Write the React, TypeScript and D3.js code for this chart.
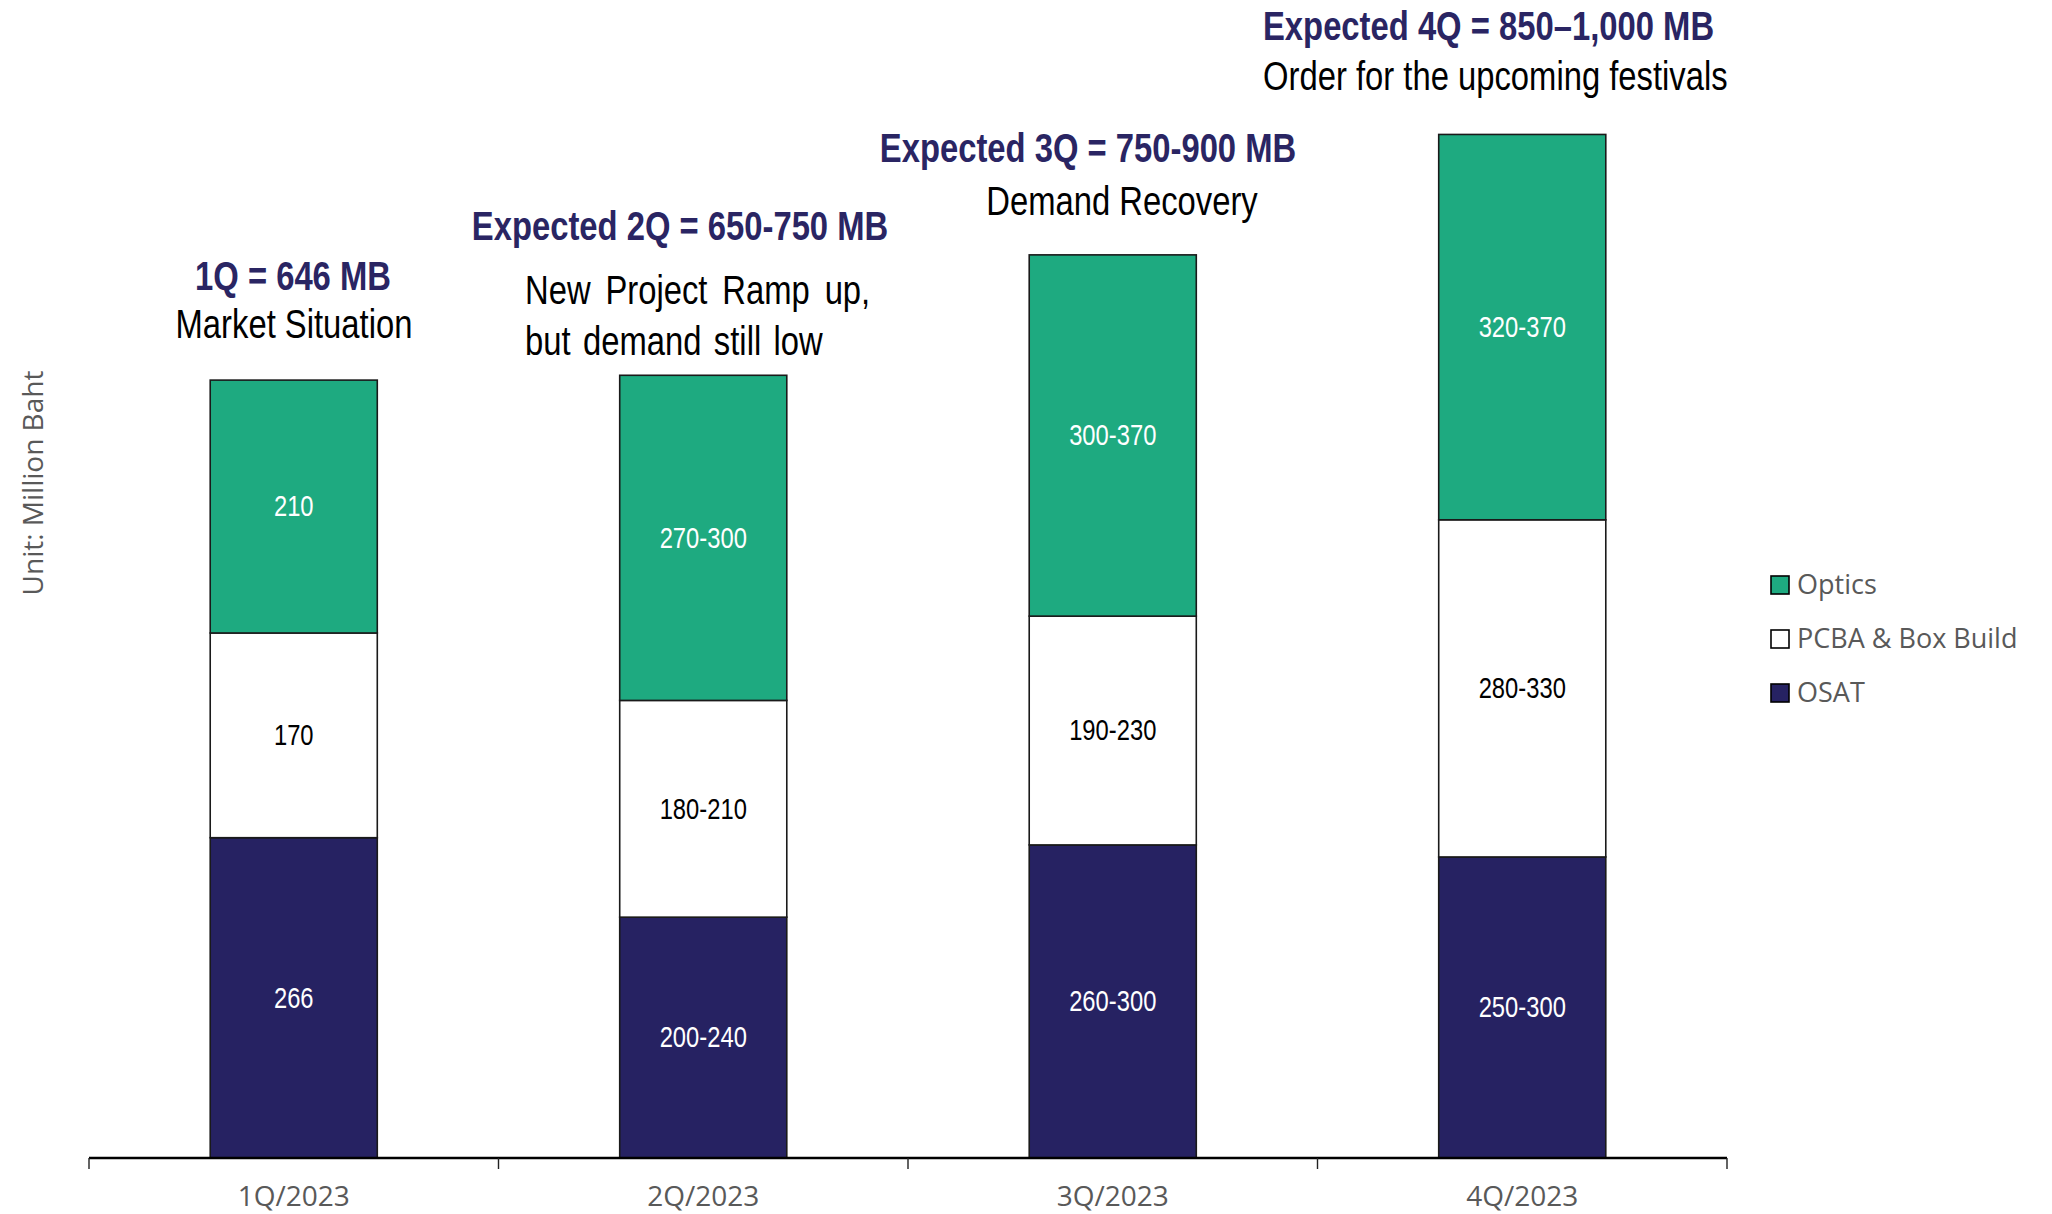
import React from "react";
import * as d3 from "d3";

const categories = ["1Q/2023", "2Q/2023", "3Q/2023", "4Q/2023"];
const osatValues = [266, 200, 260, 250];
const pcbaValues = [170, 180, 190, 280];
const opticsValues = [210, 270, 300, 320];
const osatLabels = ["266", "200-240", "260-300", "250-300"];
const pcbaLabels = ["170", "180-210", "190-230", "280-330"];
const opticsLabels = ["210", "270-300", "300-370", "320-370"];
const seriesKeys = ["OSAT", "PCBA & Box Build", "Optics"];
const legendOrder = ["Optics", "PCBA & Box Build", "OSAT"];
const headlines = [
  "1Q = 646 MB",
  "Expected 2Q = 650-750 MB",
  "Expected 3Q = 750-900 MB",
  "Expected 4Q = 850\u20131,000 MB",
];
const notes = [
  ["Market Situation"],
  ["New Project Ramp up,", "but demand still low"],
  ["Demand Recovery"],
  ["Order for the upcoming festivals"],
];
const yAxisTitle = "Unit: Million Baht";

const W = 2052;
const H = 1214;
const NARROW = "'Liberation Sans', Arial, sans-serif";
const SANS = "'Open Sans', 'Noto Sans', sans-serif";
const NAVY = "#262262";
const GREEN = "#1EAA80";
const TITLE = "#2A2563";
const GRAY = "#595959";
const SQUEEZE = 0.82;

function NarrowText(props: {
  x: number;
  y: number;
  anchor?: string;
  size: number;
  weight?: string;
  fill: string;
  central?: boolean;
  wordSpacing?: number;
  children: React.ReactNode;
}) {
  const { x, y, anchor = "middle", size, weight = "normal", fill, central, wordSpacing, children } = props;
  return (
    <text
      transform={`translate(${x},${y}) scale(${SQUEEZE},1)`}
      textAnchor={anchor as any}
      dominantBaseline={central ? "central" : "auto"}
      fontFamily={NARROW}
      fontSize={size}
      fontWeight={weight}
      fill={fill}
      style={{ wordSpacing: wordSpacing ? `${wordSpacing}px` : undefined }}
    >
      {children}
    </text>
  );
}

export default function App() {
  const table = categories.map((c, i) => ({
    cat: c,
    OSAT: osatValues[i],
    "PCBA & Box Build": pcbaValues[i],
    Optics: opticsValues[i],
  }));
  const labelMap: Record<string, string[]> = {
    OSAT: osatLabels,
    "PCBA & Box Build": pcbaLabels,
    Optics: opticsLabels,
  };
  const fillMap: Record<string, string> = {
    OSAT: NAVY,
    "PCBA & Box Build": "#FFFFFF",
    Optics: GREEN,
  };
  const textMap: Record<string, string> = {
    OSAT: "#FFFFFF",
    "PCBA & Box Build": "#000000",
    Optics: "#FFFFFF",
  };

  const x = d3
    .scaleBand<string>()
    .domain(categories)
    .range([89, 1727])
    .paddingInner(0.592)
    .paddingOuter(0.296);
  const y = d3.scaleLinear().domain([0, 960]).range([1158, 2]);
  const stack = d3.stack<any>().keys(seriesKeys);
  const layers = stack(table);

  const step = x.step();
  const tickXs = d3.range(categories.length + 1).map((i) => x.range()[0] + i * step);

  // annotation placement per category
  const annot = [
    { x: 293, anchor: "middle", ty: 290, nx: 294, nanchor: "middle", ny: [338], ws: [0] },
    { x: 680, anchor: "middle", ty: 240, nx: 525, nanchor: "start", ny: [304, 355], ws: [7, 4] },
    { x: 1088, anchor: "middle", ty: 162, nx: 1122, nanchor: "middle", ny: [215], ws: [0] },
    { x: 1263, anchor: "start", ty: 40, nx: 1263, nanchor: "start", ny: [90], ws: [0] },
  ];

  return (
    <svg
      width={W}
      height={H}
      viewBox={`0 0 ${W} ${H}`}
      style={{ position: "absolute", left: 0, top: 0, background: "#fff", display: "block" }}
    >
      <rect x={0} y={0} width={W} height={H} fill="#fff" />
      {/* bars */}
      {layers.map((layer) => (
        <g key={layer.key}>
          {layer.map((d, i) => {
            const cat = categories[i];
            const x0 = x(cat)!;
            const y0 = y(d[1]);
            const y1 = y(d[0]);
            return (
              <g key={cat}>
                <rect
                  x={x0}
                  y={y0}
                  width={x.bandwidth()}
                  height={y1 - y0}
                  fill={fillMap[layer.key]}
                  stroke="#1a1a1a"
                  strokeWidth={1.6}
                />
                <NarrowText
                  x={x0 + x.bandwidth() / 2}
                  y={(y0 + y1) / 2}
                  size={29}
                  fill={textMap[layer.key]}
                  central
                >
                  {labelMap[layer.key][i]}
                </NarrowText>
              </g>
            );
          })}
        </g>
      ))}

      {/* x axis */}
      <line x1={x.range()[0]} x2={x.range()[1]} y1={y(0)} y2={y(0)} stroke="#000" strokeWidth={2.4} />
      {tickXs.map((tx, i) => (
        <line key={i} x1={tx} x2={tx} y1={y(0)} y2={y(0) + 11} stroke="#222" strokeWidth={1.4} />
      ))}
      {categories.map((c) => (
        <text
          key={c}
          x={x(c)! + x.bandwidth() / 2}
          y={1206}
          textAnchor="middle"
          fontFamily={SANS}
          fontSize={28}
          fill={GRAY}
        >
          {c}
        </text>
      ))}

      {/* y axis title */}
      <text
        transform={`translate(43, 483) rotate(-90)`}
        textAnchor="middle"
        fontFamily={SANS}
        fontSize={28}
        fill={GRAY}
      >
        {yAxisTitle}
      </text>

      {/* annotations */}
      {headlines.map((h, i) => {
        const a = annot[i];
        return (
          <g key={h}>
            <NarrowText x={a.x} y={a.ty} anchor={a.anchor} size={40} weight="bold" fill={TITLE}>
              {h}
            </NarrowText>
            {notes[i].map((n, j) => (
              <NarrowText
                key={n}
                x={a.nx}
                y={a.ny[j]}
                anchor={a.nanchor}
                size={40}
                fill="#000"
                wordSpacing={a.ws[j]}
              >
                {n}
              </NarrowText>
            ))}
          </g>
        );
      })}

      {/* legend */}
      {legendOrder.map((k, i) => (
        <g key={k} transform={`translate(1771, ${576 + i * 54})`}>
          <rect x={0} y={0} width={18} height={18} fill={fillMap[k]} stroke="#000" strokeWidth={1.6} />
          <text x={26} y={18} fontFamily={SANS} fontSize={27} fill={GRAY}>
            {k}
          </text>
        </g>
      ))}
    </svg>
  );
}
